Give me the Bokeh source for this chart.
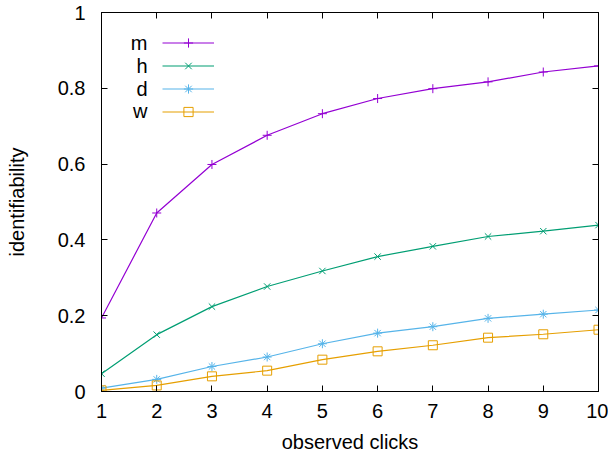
from bokeh.plotting import figure
from bokeh.models import (Range1d, FixedTicker, LinearAxis, Legend, LegendItem, Label)
from bokeh.embed import file_html
from bokeh.resources import INLINE

clicks = [1, 2, 3, 4, 5, 6, 7, 8, 9, 10]
m_vals = [0.194, 0.471, 0.599, 0.676, 0.733, 0.773, 0.799, 0.817, 0.843, 0.859]
h_vals = [0.047, 0.150, 0.224, 0.277, 0.318, 0.356, 0.383, 0.409, 0.423, 0.439]
d_vals = [0.009, 0.032, 0.066, 0.091, 0.126, 0.154, 0.171, 0.193, 0.204, 0.215]
w_vals = [0.003, 0.016, 0.040, 0.055, 0.084, 0.106, 0.122, 0.142, 0.151, 0.163]
series_names = ["m", "h", "d", "w"]
colors = ["#9400D3", "#009E73", "#56B4E9", "#E69F00"]
markers = ["cross", "x", "asterisk", "square"]
y_ticks = [0, 0.2, 0.4, 0.6, 0.8, 1]
y_tick_labels = ["0", "0.2", "0.4", "0.6", "0.8", "1"]

FONT = "Liberation Sans"
FS = "20px"

p = figure(width=608, height=459, output_backend="svg", toolbar_location=None,
           x_range=Range1d(1, 10), y_range=Range1d(0, 1),
           min_border_left=101, min_border_right=10, min_border_top=12, min_border_bottom=68)
p.xgrid.visible = False
p.ygrid.visible = False
p.outline_line_color = "black"
p.outline_line_width = 1
p.background_fill_color = "white"
p.border_fill_color = "white"

renderers = []
for name, vals, c, mk in zip(series_names, [m_vals, h_vals, d_vals, w_vals], colors, markers):
    r = p.scatter(clicks, vals, line_color=c, line_width=1.0, marker=mk, size=9,
                  fill_color=None)
    l = p.line(clicks, vals, line_color=c, line_width=1.2)
    renderers.append((name, l, r))

for ax in (p.xaxis[0], p.yaxis[0]):
    ax.major_tick_in = 6
    ax.major_tick_out = 0
    ax.minor_tick_in = 0
    ax.minor_tick_out = 0
    ax.major_label_text_font = FONT
    ax.major_label_text_font_size = FS
    ax.major_label_text_color = "black"
    ax.axis_label_text_font = FONT
    ax.axis_label_text_font_size = FS
    ax.axis_label_text_font_style = "normal"
    ax.axis_label_text_color = "black"
    ax.axis_line_color = "black"
    ax.major_tick_line_color = "black"

p.xaxis[0].ticker = FixedTicker(ticks=clicks)
p.yaxis[0].ticker = FixedTicker(ticks=y_ticks)
p.yaxis[0].major_label_overrides = {t: s for t, s in zip(y_ticks, y_tick_labels)}
p.xaxis[0].axis_label = "observed clicks"
p.yaxis[0].axis_label = "identifiability"
p.xaxis[0].major_label_standoff = 12
p.xaxis[0].axis_label_standoff = 10
p.yaxis[0].major_label_standoff = 16
p.yaxis[0].axis_label_standoff = 27

# mirrored ticks on top and right (no labels)
top = LinearAxis(ticker=FixedTicker(ticks=clicks), major_tick_in=6, major_tick_out=0,
                 minor_tick_in=0, minor_tick_out=0,
                 major_label_overrides={t: "" for t in clicks},
                 major_label_text_font_size="1px",
                 major_label_standoff=0, axis_line_color="black")
right = LinearAxis(ticker=FixedTicker(ticks=y_ticks), major_tick_in=6, major_tick_out=0,
                   minor_tick_in=0, minor_tick_out=0,
                   major_label_overrides={t: "" for t in y_ticks},
                   major_label_text_font_size="1px",
                   major_label_standoff=0, axis_line_color="black")
p.add_layout(top, "above")
p.add_layout(right, "right")

items = [LegendItem(label="", renderers=[l, r]) for name, l, r in renderers]
legend = Legend(items=items, location=(61, 268), glyph_width=52, glyph_height=23,
                spacing=0, padding=0, margin=0, label_width=0, label_standoff=0,
                border_line_color=None, background_fill_alpha=0)
p.add_layout(legend)

legend_label_x = 1.833
legend_label_y = [0.919, 0.859, 0.799, 0.740]
for name, yy in zip(series_names, legend_label_y):
    p.add_layout(Label(x=legend_label_x, y=yy, text=name, text_align="right",
                       text_baseline="middle", text_font=FONT, text_font_size=FS,
                       text_color="black"))

open("out.html", "w").write(file_html(p, INLINE))
